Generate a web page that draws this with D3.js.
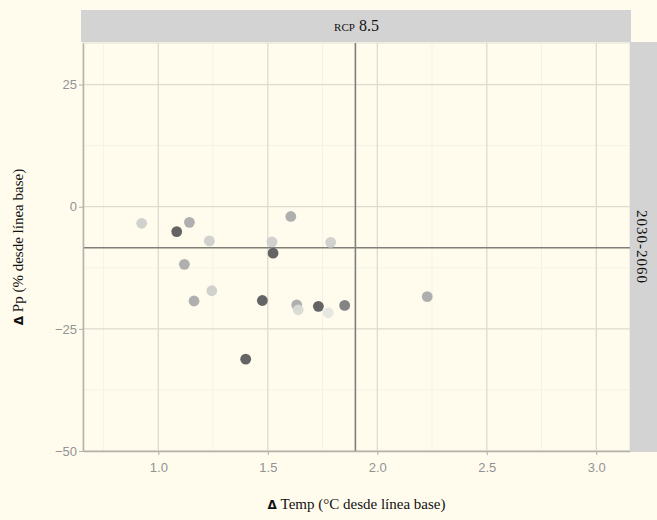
<!DOCTYPE html>
<html lang="es">
<head>
  <meta charset="UTF-8">
  <title>RCP 8.5</title>
  <script src="https://d3js.org/d3.v7.min.js"></script>
  <style>
    body { margin: 0; background: #fffcee; }
    svg { display: block; }
    .tick text { font-family: "Liberation Sans", Arial, sans-serif; font-size: 13px; fill: #939393; }
    .titulo { font-family: "Liberation Serif", "DejaVu Serif", serif; font-size: 15px; fill: #111; }
  </style>
</head>
<body>
  <svg></svg>
  <script>
    // cambio de temperatura y precipitación por modelo (2030-2060, RCP 8.5)
    const dTemp = [0.924, 1.084, 1.142, 1.233, 1.119, 1.244, 1.163, 1.475, 1.399, 1.519,
                   1.524, 1.605, 1.787, 1.632, 1.639, 1.731, 1.776, 1.851, 2.228];
    const dPp = [-3.4, -5.1, -3.2, -7.0, -11.8, -17.2, -19.3, -19.2, -31.2, -7.2,
                 -9.5, -2.0, -7.3, -20.1, -21.1, -20.4, -21.7, -20.2, -18.4];
    const grupo = ["c", "a", "b", "c", "b", "c", "b", "a", "a", "c",
                   "a", "b", "c", "b", "d", "a", "e", "f", "b"];
    const refTemp = 1.90;
    const refPp = -8.4;
    const xTicks = [1.0, 1.5, 2.0, 2.5, 3.0];
    const yTicks = [-50, -25, 0, 25];
    const xMinor = [0.75, 1.25, 1.75, 2.25, 2.75];
    const yMinor = [-37.5, -12.5, 12.5];

    const data = dTemp.map((t, i) => ({ t: t, p: dPp[i], g: grupo[i] }));

    const W = 657, H = 520;
    const panel = { left: 83, right: 630, top: 43, bottom: 451 };

    const svg = d3.select('svg').attr('width', W).attr('height', H);

    const x = d3.scaleLinear().domain([0.656, 3.154]).range([panel.left, panel.right]);
    const y = d3.scaleLinear().domain([-50, 33.5]).range([panel.bottom, panel.top]);
    const color = d3.scaleOrdinal()
        .domain(["a", "b", "c", "d", "e", "f"])
        .range(["#5c5c5c", "#ababab", "#cfcfca", "#dadad5", "#e6e6df", "#7d7d7d"]);

    // fondo del panel
    svg.append('rect')
        .attr('x', panel.left).attr('y', panel.top)
        .attr('width', panel.right - panel.left).attr('height', panel.bottom - panel.top)
        .attr('fill', '#fffcee')
        .attr('stroke', '#e2e0d4');

    // rejilla menor
    svg.selectAll('.gx-minor').data(xMinor).enter().append('line')
        .attr('x1', d => x(d)).attr('x2', d => x(d))
        .attr('y1', panel.top).attr('y2', panel.bottom)
        .attr('stroke', '#f4f2e6').attr('stroke-width', 1);
    svg.selectAll('.gy-minor').data(yMinor).enter().append('line')
        .attr('x1', panel.left).attr('x2', panel.right)
        .attr('y1', d => y(d)).attr('y2', d => y(d))
        .attr('stroke', '#f4f2e6').attr('stroke-width', 1);

    // rejilla mayor
    svg.selectAll('.gx').data(xTicks).enter().append('line')
        .attr('x1', d => x(d)).attr('x2', d => x(d))
        .attr('y1', panel.top).attr('y2', panel.bottom)
        .attr('stroke', '#dedbce').attr('stroke-width', 1.3);
    svg.selectAll('.gy').data(yTicks).enter().append('line')
        .attr('x1', panel.left).attr('x2', panel.right)
        .attr('y1', d => y(d)).attr('y2', d => y(d))
        .attr('stroke', '#dedbce').attr('stroke-width', 1.3);

    // líneas de referencia
    svg.append('line')
        .attr('x1', x(refTemp)).attr('x2', x(refTemp))
        .attr('y1', panel.top).attr('y2', panel.bottom)
        .attr('stroke', '#7f7f7a').attr('stroke-width', 1.6);
    svg.append('line')
        .attr('x1', panel.left).attr('x2', panel.right)
        .attr('y1', y(refPp)).attr('y2', y(refPp))
        .attr('stroke', '#7f7f7a').attr('stroke-width', 1.6);

    // puntos
    svg.selectAll('circle').data(data).enter().append('circle')
        .attr('cx', d => x(d.t))
        .attr('cy', d => y(d.p))
        .attr('r', 5.4)
        .attr('fill', d => color(d.g))
        .attr('opacity', 0.95);

    // ejes
    const gx = svg.append('g')
        .attr('transform', `translate(0,${panel.bottom})`)
        .call(d3.axisBottom(x).tickValues(xTicks).tickFormat(d3.format('.1f')).tickSizeInner(4).tickSizeOuter(0));
    const gy = svg.append('g')
        .attr('transform', `translate(${panel.left},0)`)
        .call(d3.axisLeft(y).tickValues(yTicks).tickSizeInner(4).tickSizeOuter(0));
    [gx, gy].forEach(g => {
      g.select('.domain').attr('stroke', '#b3b1a8').attr('stroke-width', 1.5);
      g.selectAll('.tick line').attr('stroke', '#b3b1a8');
    });
    gx.selectAll('.tick text').attr('dy', '1.1em');
    gy.selectAll('.tick text').attr('dx', '1px');

    // franjas
    svg.append('rect')
        .attr('x', 81).attr('y', 10)
        .attr('width', 631 - 81).attr('height', 32)
        .attr('fill', '#d3d3d3');
    svg.append('text')
        .attr('class', 'titulo')
        .attr('x', (panel.left + panel.right) / 2).attr('y', 31)
        .attr('text-anchor', 'middle')
        .style('font-size', '16px')
        .style('font-variant', 'small-caps')
        .text('rcp 8.5');

    svg.append('rect')
        .attr('x', 630).attr('y', 42)
        .attr('width', W - 630).attr('height', 410)
        .attr('fill', '#d3d3d3');
    svg.append('text')
        .attr('class', 'titulo')
        .attr('transform', `translate(637,${(panel.top + panel.bottom) / 2}) rotate(90)`)
        .attr('text-anchor', 'middle')
        .style('letter-spacing', '1px')
        .text('2030-2060');

    // títulos de ejes
    const tx = svg.append('text')
        .attr('class', 'titulo')
        .attr('x', (panel.left + panel.right) / 2).attr('y', 509)
        .attr('text-anchor', 'middle');
    tx.append('tspan').attr('font-weight', 'bold').attr('font-family', 'DejaVu Sans').attr('font-size', 12).text('Δ');
    tx.append('tspan').text(' Temp (°C desde línea base)');

    const ty = svg.append('text')
        .attr('class', 'titulo')
        .attr('transform', `translate(23,${(panel.top + panel.bottom) / 2}) rotate(-90)`)
        .attr('text-anchor', 'middle');
    ty.append('tspan').attr('font-weight', 'bold').attr('font-family', 'DejaVu Sans').attr('font-size', 12).text('Δ');
    ty.append('tspan').text(' Pp (% desde línea base)');
  </script>
</body>
</html>
